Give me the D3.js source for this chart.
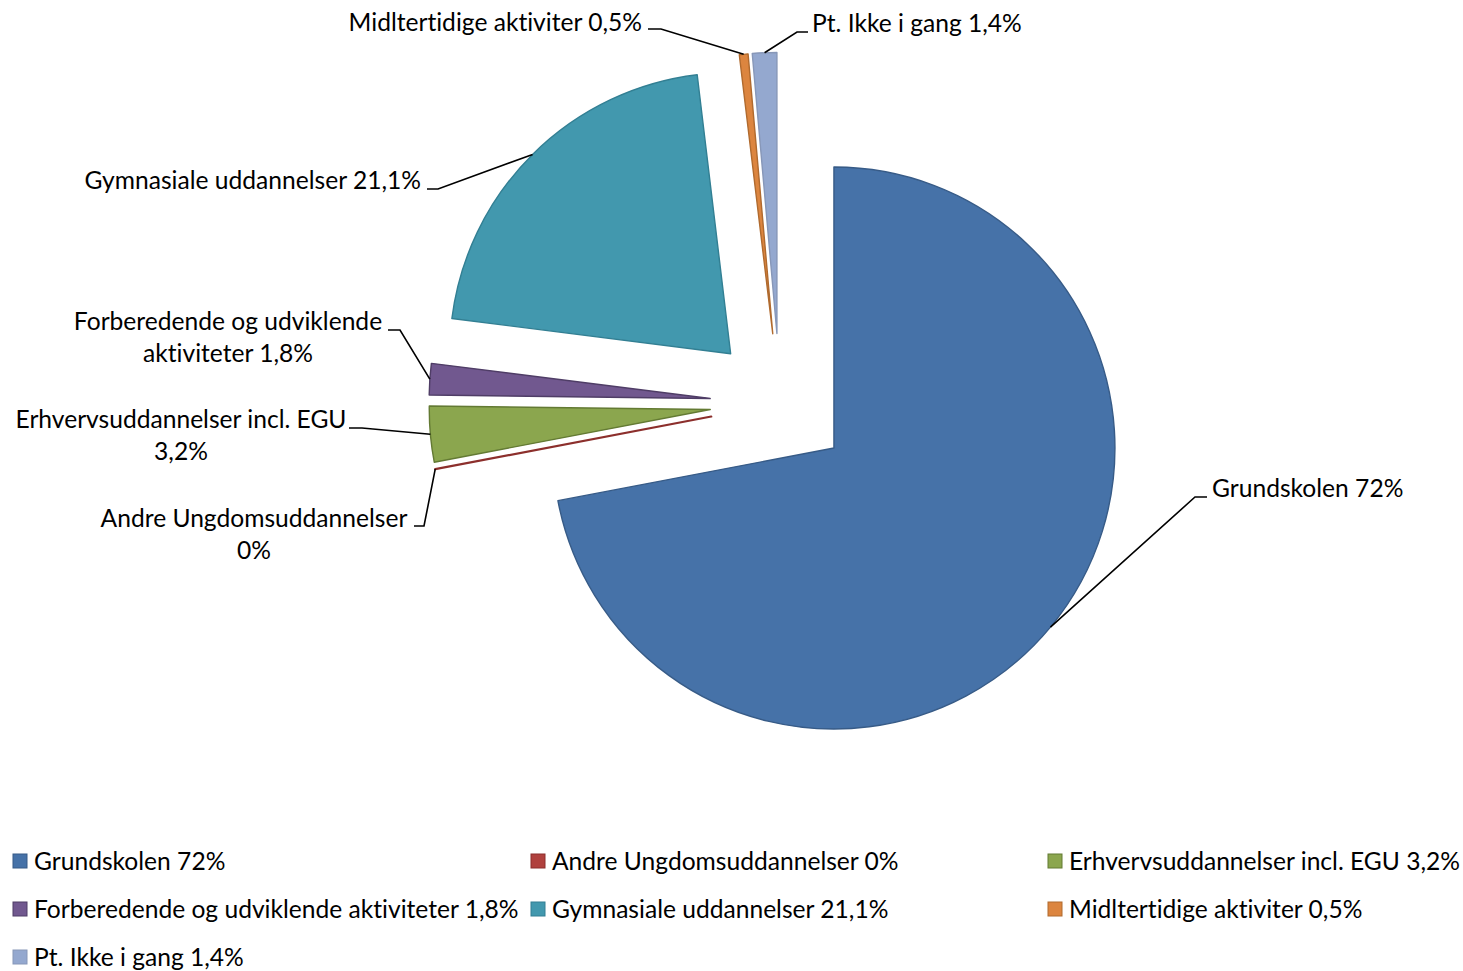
<!DOCTYPE html>
<html>
<head>
<meta charset="utf-8">
<script src="https://cdn.jsdelivr.net/npm/d3@7"></script>
<style>
  html, body { margin: 0; padding: 0; background: #ffffff; }
  svg { display: block; }
  text { font-family: Lato, "Open Sans", sans-serif; fill: #000;
         font-variant-ligatures: none; font-feature-settings: "liga" 0, "clig" 0; }
</style>
</head>
<body>
<svg id="chart" width="1463" height="971"></svg>
<script>
// ---- data ----
const categories = [
  "Grundskolen",
  "Andre Ungdomsuddannelser",
  "Erhvervsuddannelser incl. EGU",
  "Forberedende og udviklende aktiviteter",
  "Gymnasiale uddannelser",
  "Midltertidige aktiviter",
  "Pt. Ikke i gang"
];
const values = [72, 0, 3.2, 1.8, 21.1, 0.5, 1.4];
const valueLabels = ["72%", "0%", "3,2%", "1,8%", "21,1%", "0,5%", "1,4%"];
// data label text, wrapped as in the original
const dataLabelLines = [
  ["Grundskolen 72%"],
  ["Andre Ungdomsuddannelser", "0%"],
  ["Erhvervsuddannelser incl. EGU", "3,2%"],
  ["Forberedende og udviklende", "aktiviteter 1,8%"],
  ["Gymnasiale uddannelser 21,1%"],
  ["Midltertidige aktiviter 0,5%"],
  ["Pt. Ikke i gang 1,4%"]
];
const legendLabels = categories.map((c, i) => c + " " + valueLabels[i]);

// ---- styles ----
const fills   = ["#4672a8", "#b0413e", "#8ba64e", "#71588f", "#4298ae", "#dc853f", "#94a8cf"];
const strokes = ["#375b87", "#8c2f2c", "#637a33", "#4f3d66", "#327f93", "#b06a2e", "#8797b8"];
const fontSize = 24.6;

// ---- layout ----
const cx = 780, cy = 403.4, radius = 281, explode = 70;
// label placements: [x, y(first baseline), anchor, elbow point, line end point]
const labelLayout = [
  {x: 1212, y: 497, anchor: "start",  elbow: [1195, 497], end: [1207, 497]},
  {x: 254,  y: 527, anchor: "middle", elbow: [424, 526],  end: [414, 526]},
  {x: 181,  y: 428, anchor: "middle", elbow: [362, 428],  end: [349, 428]},
  {x: 228,  y: 330, anchor: "middle", elbow: [400, 330],  end: [388, 330]},
  {x: 421,  y: 189, anchor: "end",    elbow: [438, 189],  end: [427, 189]},
  {x: 642,  y: 31,  anchor: "end",    elbow: [661, 29],   end: [648, 29]},
  {x: 812,  y: 32,  anchor: "start",  elbow: [797, 32],   end: [808, 32]}
];
const lineHeight = 32;

const svg = d3.select("#chart");

const pie = d3.pie().sort(null).value(d => d).startAngle(0).endAngle(2 * Math.PI);
const arcs = pie(values);
const arc = d3.arc().innerRadius(0).outerRadius(radius);

const g = svg.append("g").attr("transform", `translate(${cx},${cy})`);

function offset(a) {
  const mid = (a.startAngle + a.endAngle) / 2;
  return [Math.sin(mid) * explode, -Math.cos(mid) * explode];
}

g.selectAll("path.slice")
  .data(arcs)
  .join("path")
  .attr("class", "slice")
  .attr("transform", d => { const o = offset(d); return `translate(${o[0]},${o[1]})`; })
  .attr("d", arc)
  .attr("fill", (d, i) => fills[i])
  .attr("stroke", (d, i) => strokes[i])
  .attr("stroke-width", (d, i) => values[i] === 0 ? 2.2 : 1.4)
  .attr("stroke-linejoin", "round");

// leader lines
const line = d3.line();
arcs.forEach((d, i) => {
  const mid = (d.startAngle + d.endAngle) / 2;
  const r = radius + explode;
  const p0 = [cx + Math.sin(mid) * r, cy - Math.cos(mid) * r];
  const L = labelLayout[i];
  svg.append("path")
    .attr("d", line([p0, L.elbow, L.end]))
    .attr("fill", "none")
    .attr("stroke", "#000")
    .attr("stroke-width", 1.6);
});

// data labels
dataLabelLines.forEach((lines, i) => {
  const L = labelLayout[i];
  const t = svg.append("text")
    .attr("text-anchor", L.anchor)
    .style("font-size", fontSize + "px");
  lines.forEach((s, k) => {
    t.append("tspan").attr("x", L.x).attr("y", L.y + k * lineHeight).text(s);
  });
});

// legend
const legendCols = [13, 531, 1048];
const legendRows = [861, 909, 957];
const lg = svg.append("g");
legendLabels.forEach((s, i) => {
  const x = legendCols[i % 3];
  const y = legendRows[Math.floor(i / 3)];
  lg.append("rect")
    .attr("x", x).attr("y", y - 7).attr("width", 14).attr("height", 14)
    .attr("fill", fills[i]).attr("stroke", strokes[i]).attr("stroke-width", 1);
  lg.append("text")
    .attr("x", x + 21).attr("y", y + 8.5)
    .style("font-size", fontSize + "px")
    .text(s);
});
</script>
</body>
</html>
